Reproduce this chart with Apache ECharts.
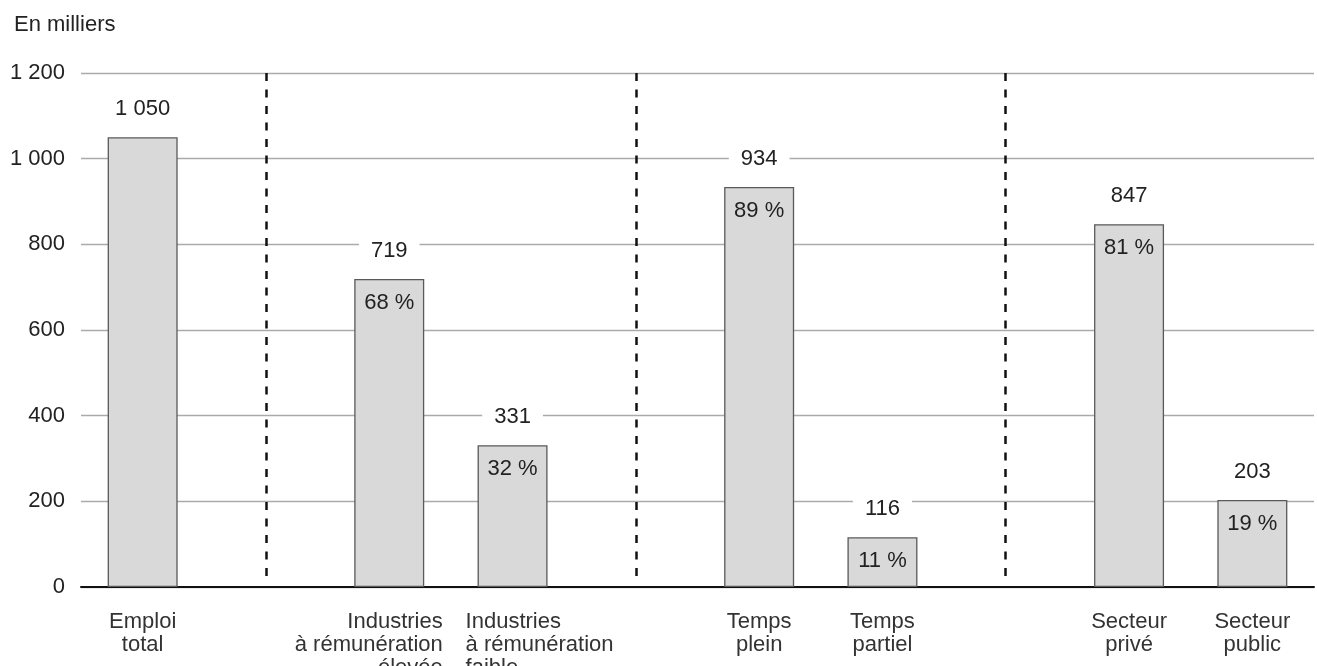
<!DOCTYPE html>
<html>
<head>
<meta charset="utf-8">
<script src="https://cdn.jsdelivr.net/npm/echarts@6/dist/echarts.min.js"></script>
<style>
  html, body { margin: 0; padding: 0; background: #fff; }
  #chart { width: 1317px; height: 666px; }
</style>
</head>
<body>
<div id="chart"></div>
<script>
// categories (the sep* entries are the empty slots that hold the dashed separators)
var categories = ['emploi', 'sep1', 'indEleve', 'indFaible', 'sep2', 'tpsPlein', 'tpsPartiel', 'sep3', 'prive', 'public']
var tickLabels = ['Emploi\ntotal', '', 'Industries\nà rémunération\nélevée', 'Industries\nà rémunération\nfaible', '',
  'Temps\nplein', 'Temps\npartiel', '', 'Secteur\nprivé', 'Secteur\npublic']
var values = [1050, null, 719, 331, null, 934, 116, null, 847, 203]
var shares = [null, null, 68, 32, null, 89, 11, null, 81, 19]
var separators = ['sep1', 'sep2', 'sep3']
var yTicks = [0, 200, 400, 600, 800, 1000, 1200]

var FONT = '"Liberation Sans", Arial, sans-serif'
var FS = 22

function fmt(n) {
  // french style thousands: 1 050
  return String(n).replace(/\B(?=(\d{3})+(?!\d))/g, ' ')
}

var chart = echarts.init(document.getElementById('chart'))

var sepLines = separators.map(function (s) {
  return [{ xAxis: s, yAxis: 1200 }, { xAxis: s, yAxis: 24 }]
})

chart.setOption({
  animation: false,
  textStyle: { fontFamily: FONT },
  title: {
    text: 'En milliers',
    left: 9,
    top: 9,
    textStyle: { fontFamily: FONT, fontSize: FS, fontWeight: 'normal', color: '#222' }
  },
  grid: { left: 81, right: 3, top: 73, bottom: 79, containLabel: false, outerBoundsMode: 'none' },
  xAxis: {
    type: 'category',
    data: categories,
    axisTick: { show: false },
    axisLine: { lineStyle: { color: '#111', width: 2 } },
    axisLabel: {
      interval: 0,
      margin: 23,
      color: '#333',
      fontSize: FS,
      lineHeight: 23,
      fontFamily: FONT,
      formatter: function (v, i) {
        var t = tickLabels[i]
        if (v === 'indEleve') {
          return t.split('\n').map(function (s) { return '{r|' + s + '}' }).join('\n')
        }
        if (v === 'indFaible') {
          return t.split('\n').map(function (s) { return '{l|' + s + '}' }).join('\n')
        }
        return t
      },
      rich: {
        r: { align: 'right', fontSize: FS, lineHeight: 23, color: '#333', fontFamily: FONT, padding: [0, 41, 0, 0] },
        l: { align: 'left', fontSize: FS, lineHeight: 23, color: '#333', fontFamily: FONT, padding: [0, 0, 0, 54] }
      }
    }
  },
  yAxis: {
    type: 'value',
    min: yTicks[0],
    max: yTicks[yTicks.length - 1],
    interval: 200,
    axisLine: { show: false },
    axisTick: { show: false },
    axisLabel: {
      margin: 16,
      color: '#222',
      fontSize: FS,
      fontFamily: FONT,
      formatter: function (v) { return fmt(v) }
    },
    splitLine: { lineStyle: { color: '#aaa', width: 1.4 } }
  },
  series: [
    {
      name: 'valeur',
      type: 'bar',
      barWidth: 70,
      data: values,
      itemStyle: { color: '#d9d9d9', borderColor: '#5a5a5a', borderWidth: 1.3 },
      label: {
        show: true,
        position: 'top',
        distance: 15,
        fontSize: FS,
        color: '#222',
        fontFamily: FONT,
        backgroundColor: '#fff',
        padding: [2, 12],
        formatter: function (p) { return fmt(p.value) }
      },
      markLine: {
        silent: true,
        symbol: 'none',
        label: { show: false },
        lineStyle: { color: '#111', type: [8, 8.5], width: 2.5 },
        data: sepLines
      }
    },
    {
      name: 'part',
      type: 'bar',
      barWidth: 70,
      barGap: '-100%',
      data: values.map(function (v, i) { return shares[i] == null ? null : v }),
      itemStyle: { color: 'rgba(0,0,0,0)' },
      label: {
        show: true,
        position: 'insideTop',
        distance: 13,
        fontSize: FS,
        color: '#222',
        fontFamily: FONT,
        formatter: function (p) { return shares[p.dataIndex] + ' %' }
      }
    }
  ]
})
</script>
</body>
</html>
